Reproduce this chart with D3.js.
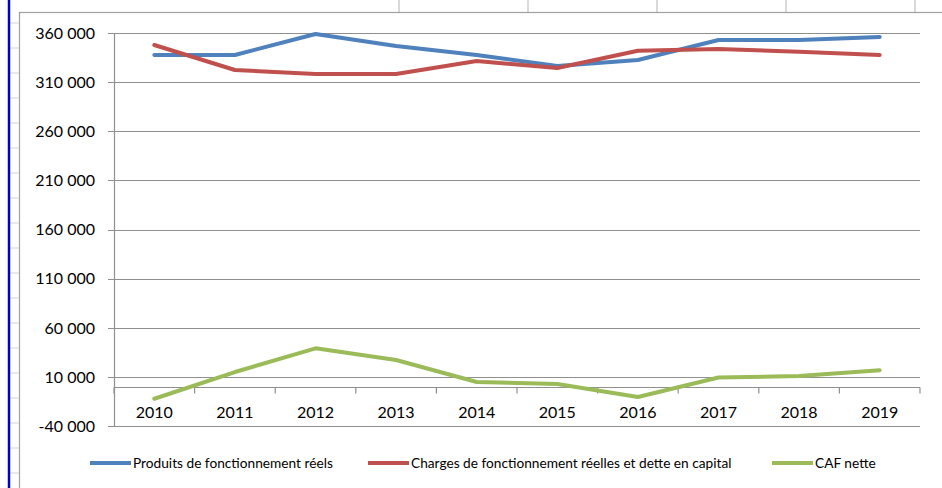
<!DOCTYPE html>
<html>
<head>
<meta charset="utf-8">
<script src="https://cdn.jsdelivr.net/npm/d3@7"></script>
<style>
  body { margin: 0; background: #fff; }
  svg { display: block; font-family: Lato, "Open Sans", sans-serif; }
</style>
</head>
<body>
<div id="chart"></div>
<script>
// data
var years = ["2010", "2011", "2012", "2013", "2014", "2015", "2016", "2017", "2018", "2019"];
var produits = [337600, 337600, 359000, 346800, 337600, 326500, 332500, 352900, 352900, 356000];
var charges = [347800, 322400, 318300, 318300, 331500, 324400, 342000, 343700, 341000, 337600];
var caf = [-12000, 15200, 39300, 27400, 5000, 3000, -10200, 9700, 11100, 17000];
var yTicks = [-40000, 10000, 60000, 110000, 160000, 210000, 260000, 310000, 360000];
var seriesNames = ["Produits de fonctionnement réels", "Charges de fonctionnement réelles et dette en capital", "CAF nette"];
var colors = ["#4f81bd", "#c0504d", "#9bbb59"];

var width = 942, height = 488;

var svg = d3.select("#chart").append("svg")
    .attr("width", width)
    .attr("height", height);

// spreadsheet background bits
var colLines = [399, 528, 657, 786, 915];
svg.selectAll("line.col")
    .data(colLines)
    .enter().append("line")
    .attr("x1", d => d).attr("x2", d => d)
    .attr("y1", 0).attr("y2", 12)
    .attr("stroke", "#d9d9d9").attr("stroke-width", 2);

var rowLines = d3.range(23, 488, 25);
svg.selectAll("line.row")
    .data(rowLines)
    .enter().append("line")
    .attr("x1", 10).attr("x2", 19)
    .attr("y1", d => d).attr("y2", d => d)
    .attr("stroke", "#d4d4d4").attr("stroke-width", 1);

svg.append("line")
    .attr("x1", 9).attr("x2", 9)
    .attr("y1", 0).attr("y2", height)
    .attr("stroke", "#0000c8").attr("stroke-width", 2.5);

// chart area border
svg.append("rect")
    .attr("x", 19.5).attr("y", 12.5)
    .attr("width", 930).attr("height", 490)
    .attr("fill", "#fff")
    .attr("stroke", "#a0a0a0").attr("stroke-width", 1.2);

var left = 114, right = 920;

var x = d3.scalePoint()
    .domain(years)
    .range([left, right])
    .padding(0.5);

var y = d3.scaleLinear()
    .domain([-40000, 360000])
    .range([426.3, 33]);

var fr = d3.formatLocale({ decimal: ",", thousands: " ", grouping: [3], currency: ["", " €"], minus: "-" });
var fmt = fr.format(",d");

// gridlines
svg.append("g")
    .selectAll("line")
    .data(yTicks)
    .enter().append("line")
    .attr("x1", left - 6).attr("x2", right)
    .attr("y1", d => Math.round(y(d)) + 0.5).attr("y2", d => Math.round(y(d)) + 0.5)
    .attr("stroke", "#8f8f8f").attr("stroke-width", 1.2);

// y axis
var yAxis = d3.axisLeft(y)
    .tickValues(yTicks)
    .tickFormat(fmt)
    .tickSize(0)
    .tickPadding(19);

var gy = svg.append("g")
    .attr("transform", "translate(" + left + ",0)")
    .call(yAxis);
gy.select(".domain").remove();
gy.selectAll("text")
    .attr("fill", "#000")
    .style("font-size", "16px")
    .style("font-family", "Lato");

svg.append("line")
    .attr("x1", left + 0.5).attr("x2", left + 0.5)
    .attr("y1", y(360000)).attr("y2", y(-40000))
    .attr("stroke", "#8f8f8f").attr("stroke-width", 1.2);

// x axis at zero
var y0 = Math.round(y(0)) + 0.5;
var bounds = d3.range(years.length + 1).map(i => left + i * x.step());
svg.append("line")
    .attr("x1", left).attr("x2", right)
    .attr("y1", y0).attr("y2", y0)
    .attr("stroke", "#8f8f8f").attr("stroke-width", 1.2);
svg.append("g")
    .selectAll("line")
    .data(bounds)
    .enter().append("line")
    .attr("x1", d => d).attr("x2", d => d)
    .attr("y1", y0).attr("y2", y0 + 6)
    .attr("stroke", "#8f8f8f").attr("stroke-width", 1.2);
svg.append("g")
    .selectAll("text")
    .data(years)
    .enter().append("text")
    .attr("x", d => x(d))
    .attr("y", y0 + 30)
    .attr("text-anchor", "middle")
    .style("font-size", "16px")
    .text(d => d);

// lines
var line = d3.line()
    .x((d, i) => x(years[i]))
    .y(d => y(d));

[produits, charges, caf].forEach(function(s, i) {
    svg.append("path")
        .datum(s)
        .attr("d", line)
        .attr("fill", "none")
        .attr("stroke", colors[i])
        .attr("stroke-width", 4)
        .attr("stroke-linejoin", "round")
        .attr("stroke-linecap", "round");
});

// legend
var legendX = [90, 368, 772];
var legend = svg.append("g");
seriesNames.forEach(function(name, i) {
    legend.append("line")
        .attr("x1", legendX[i]).attr("x2", legendX[i] + 41)
        .attr("y1", 463).attr("y2", 463)
        .attr("stroke", colors[i]).attr("stroke-width", 4);
    legend.append("text")
        .attr("x", legendX[i] + 43)
        .attr("y", 467.5)
        .style("font-size", "13.7px")
        .text(name);
});
</script>
</body>
</html>
